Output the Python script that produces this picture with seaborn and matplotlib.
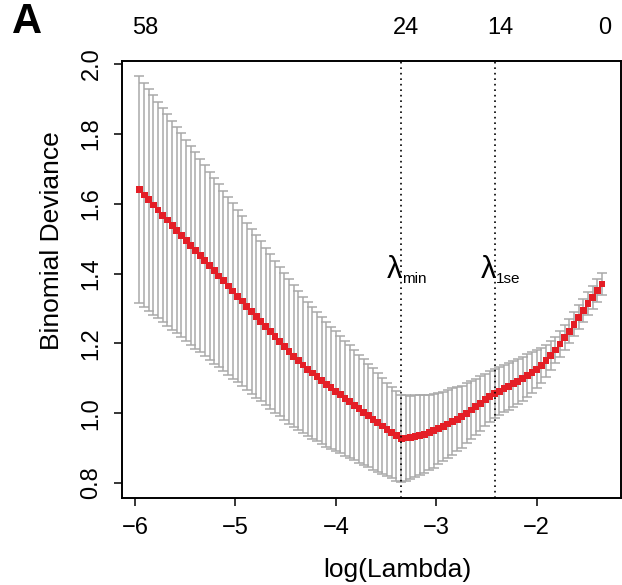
import matplotlib
matplotlib.use("Agg")
import numpy as np
import pandas as pd
import seaborn as sns
from matplotlib import pyplot as plt

# cross-validation curve (100 lambdas)
log_lambda = [
    -5.955, -5.908, -5.862, -5.815, -5.769, -5.722, -5.676, -5.629, -5.583, -5.536,
    -5.490, -5.443, -5.397, -5.350, -5.304, -5.257, -5.211, -5.164, -5.118, -5.071,
    -5.025, -4.978, -4.932, -4.885, -4.839, -4.792, -4.746, -4.699, -4.653, -4.606,
    -4.559, -4.513, -4.466, -4.420, -4.373, -4.327, -4.280, -4.234, -4.187, -4.141,
    -4.094, -4.048, -4.001, -3.955, -3.908, -3.862, -3.815, -3.769, -3.722, -3.676,
    -3.629, -3.583, -3.536, -3.490, -3.443, -3.397, -3.350, -3.304, -3.257, -3.211,
    -3.164, -3.118, -3.071, -3.025, -2.978, -2.932, -2.885, -2.839, -2.792, -2.746,
    -2.699, -2.653, -2.606, -2.560, -2.513, -2.467, -2.420, -2.374, -2.327, -2.281,
    -2.234, -2.188, -2.141, -2.095, -2.048, -2.002, -1.955, -1.909, -1.862, -1.816,
    -1.769, -1.723, -1.676, -1.630, -1.583, -1.537, -1.490, -1.444, -1.397, -1.350,
]
cv_mean = [
    1.640, 1.625, 1.611, 1.596, 1.582, 1.567, 1.553, 1.538, 1.524, 1.509,
    1.495, 1.480, 1.466, 1.451, 1.437, 1.422, 1.408, 1.393, 1.379, 1.364,
    1.350, 1.335, 1.321, 1.306, 1.292, 1.277, 1.263, 1.248, 1.234, 1.219,
    1.205, 1.191, 1.177, 1.163, 1.150, 1.138, 1.126, 1.115, 1.104, 1.093,
    1.083, 1.073, 1.063, 1.053, 1.043, 1.033, 1.023, 1.013, 1.003, 0.993,
    0.983, 0.973, 0.963, 0.953, 0.944, 0.935, 0.928, 0.929, 0.931, 0.934,
    0.937, 0.940, 0.944, 0.950, 0.956, 0.962, 0.969, 0.976, 0.983, 0.990,
    1.000, 1.009, 1.018, 1.028, 1.038, 1.047, 1.056, 1.063, 1.070, 1.077,
    1.084, 1.091, 1.099, 1.107, 1.116, 1.126, 1.137, 1.150, 1.165, 1.181,
    1.198, 1.216, 1.235, 1.255, 1.275, 1.294, 1.313, 1.332, 1.351, 1.370,
]
cv_sd = [
    0.325, 0.321, 0.318, 0.314, 0.310, 0.307, 0.303, 0.299, 0.295, 0.292,
    0.288, 0.284, 0.281, 0.277, 0.273, 0.270, 0.266, 0.262, 0.258, 0.255,
    0.251, 0.247, 0.244, 0.240, 0.236, 0.233, 0.229, 0.225, 0.221, 0.218,
    0.214, 0.210, 0.207, 0.203, 0.199, 0.196, 0.192, 0.189, 0.185, 0.182,
    0.179, 0.175, 0.172, 0.168, 0.165, 0.162, 0.158, 0.155, 0.152, 0.148,
    0.145, 0.141, 0.138, 0.134, 0.131, 0.128, 0.125, 0.122, 0.119, 0.117,
    0.114, 0.111, 0.108, 0.106, 0.103, 0.100, 0.097, 0.095, 0.092, 0.089,
    0.086, 0.084, 0.081, 0.078, 0.075, 0.073, 0.070, 0.069, 0.068, 0.067,
    0.066, 0.064, 0.063, 0.062, 0.058, 0.054, 0.050, 0.045, 0.041, 0.037,
    0.036, 0.036, 0.035, 0.035, 0.034, 0.034, 0.033, 0.033, 0.032, 0.032,
]
lambda_min = -3.350
lambda_1se = -2.420

# number of nonzero coefficients shown on top
top_pos = [-5.90, -3.30, -2.36, -1.32]
top_labels = ["58", "24", "14", "0"]

x_ticks = [-6, -5, -4, -3, -2]
y_ticks = [0.8, 1.0, 1.2, 1.4, 1.6, 1.8, 2.0]
y_tick_labels = ["0.8", "1.0", "1.2", "1.4", "1.6", "1.8", "2.0"]

df = pd.DataFrame({"log_lambda": log_lambda, "cvm": cv_mean, "cvsd": cv_sd})

sns.set_theme(style="ticks")
plt.rcParams["font.family"] = ["Liberation Sans", "DejaVu Sans"]
plt.rcParams["text.color"] = "black"
plt.rcParams["axes.labelcolor"] = "black"

fig = plt.figure(figsize=(6.22, 5.85), dpi=100)
ax = fig.add_axes([0.196, 0.1487, 0.802, 0.747])

ax.errorbar(df["log_lambda"], df["cvm"], yerr=df["cvsd"], fmt="none",
            ecolor="#A9A9A9", elinewidth=1.1, capsize=3.8, capthick=1.1, zorder=1)
sns.scatterplot(data=df, x="log_lambda", y="cvm", marker="s", s=24,
                color="#E41E26", edgecolor="none", linewidth=0, ax=ax, zorder=3)

for v in [lambda_min, lambda_1se]:
    ax.axvline(v, color="black", ls=(0, (1, 2.3)), lw=1.2, zorder=4)

# lambda annotations
ax.text(lambda_min + 0.01, 1.387, "λ", ha="right", va="baseline", fontsize=22)
ax.text(lambda_min + 0.01, 1.372, "min", ha="left", va="baseline", fontsize=11)
ax.text(lambda_1se + 0.01, 1.387, "λ", ha="right", va="baseline", fontsize=22)
ax.text(lambda_1se + 0.01, 1.372, "1se", ha="left", va="baseline", fontsize=11)

ax.set_xlim(-6.129, -1.164)
ax.set_ylim(0.757, 2.0086)
ax.set_xticks(x_ticks)
ax.set_yticks(y_ticks, labels=y_tick_labels)
ax.tick_params(labelsize=17, length=6, width=1.1, direction="out", pad=8,
               colors="black", labelcolor="black")
for lab in ax.get_yticklabels():
    lab.set_rotation(90)
    lab.set_va("center")
for sp in ax.spines.values():
    sp.set_visible(True)
    sp.set_linewidth(1.4)
    sp.set_color("black")
ax.set_xlabel("")
ax.set_ylabel("")

for pos, lab in zip(top_pos, top_labels):
    ax.text(pos, 1.0755, lab, transform=ax.get_xaxis_transform(),
            ha="center", va="center", fontsize=17)

fig.text(397 / 622, 1 - 570 / 585, "log(Lambda)", ha="center", va="center", fontsize=19)
fig.text(52 / 622, 1 - 241 / 585, "Binomial Deviance", ha="center", va="center",
         rotation=90, fontsize=19)
fig.text(27 / 622, 1 - 22 / 585, "A", ha="center", va="center", fontsize=30,
         fontweight="bold")

fig.savefig("out.png", dpi=100)
